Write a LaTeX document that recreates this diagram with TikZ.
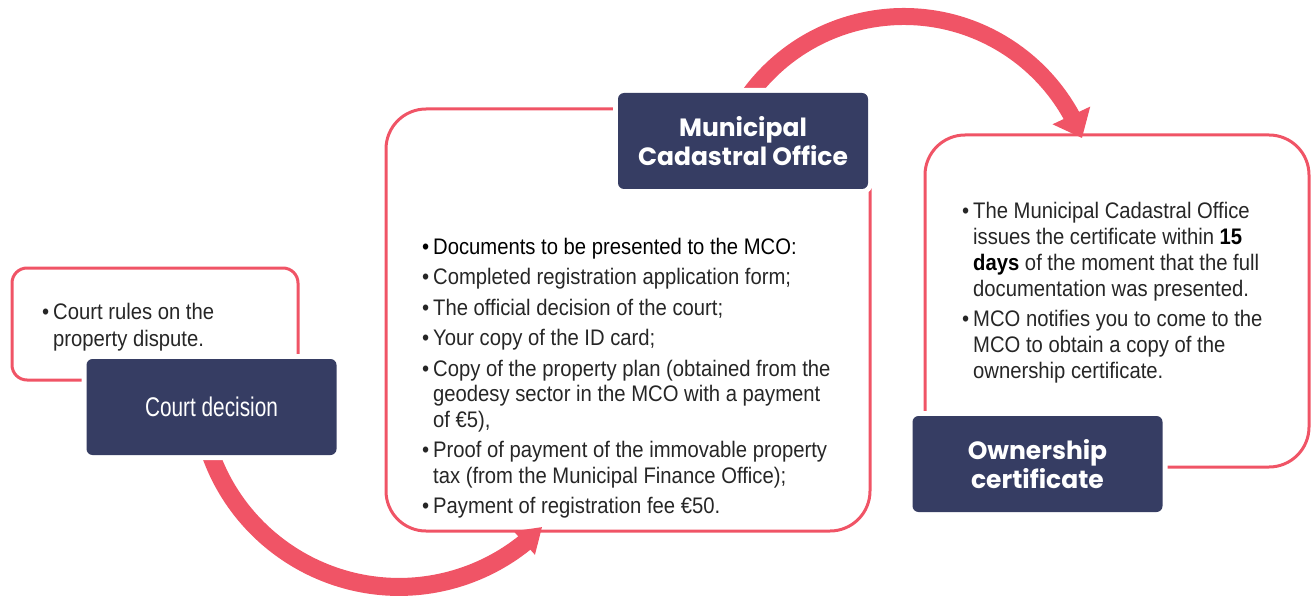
\documentclass[tikz,border=0pt]{standalone}
\usepackage{fontspec}
\usetikzlibrary{arrows.meta,bending}
\newfontfamily\bodyfont[FakeStretch=0.9]{Liberation Sans}
\newfontfamily\courtfont[FakeStretch=0.77]{Liberation Sans}
\newfontfamily\headfont{Poppins}
\definecolor{accent}{RGB}{240,84,102}
\definecolor{navy}{RGB}{54,61,99}
\definecolor{ink}{RGB}{38,38,38}
\newcommand{\bul}{\makebox[11pt][l]{•}}
\newcommand{\ind}{\hspace*{11pt}}
\begin{document}
\begin{tikzpicture}[x=1pt,y=-1pt,
  frame/.style={draw=accent, line width=3pt, rounded corners=#1, inner sep=0pt},
  titlebox/.style={fill=navy, rounded corners=6pt, preaction={draw=white, line width=10pt},
    minimum width=250pt, minimum height=96pt, inner sep=0pt, text=white, align=center},
  headtext/.style={font=\headfont\bfseries\fontsize{25}{29.5}\selectfont},
  bodytext/.style={font=\bodyfont\fontsize{22.5}{#1}\selectfont, text=ink, align=left,
    inner sep=0pt, anchor=base west},
  bigarrow/.style={draw=accent, line width=#1}
]
\useasboundingbox (0,0) rectangle (1312,596);
% outline frames
\node[frame=15pt, minimum width=286pt, minimum height=112pt] (courtframe) at (155,324) {};
\node[frame=40pt, minimum width=484pt, minimum height=422pt] (mcoframe) at (628,320) {};
\node[frame=40pt, minimum width=384pt, minimum height=332pt] (ownframe) at (1117,301) {};
% curved arrows
\coordinate (topc) at (903.8,207.9);
\coordinate (botc) at (399.2,386.5);
\draw[bigarrow=17pt, -{Triangle[width=40pt,length=25pt]}]
  ([shift={(-145:191.4)}]topc) arc[start angle=-145, end angle=-21.4, radius=191.4];
\draw[bigarrow=18pt, -{Triangle[width=30pt,length=24pt]}]
  ([shift={(-195:200.4)}]botc) arc[start angle=-195, end angle=-315.5, radius=200.4];
% title boxes
\node[titlebox, font=\courtfont\fontsize{27}{30}\selectfont] (court) at (211.5,407) {Court decision};
\node[titlebox, headtext] (mco) at (743,141) {Municipal\\Cadastral Office};
\node[titlebox, headtext] (own) at (1037.5,464) {Ownership\\certificate};
% texts (anchored at the baseline of their last line)
\node[bodytext=26.5] (courttext) at (42,346) {\bul Court rules on the\\\ind property dispute.};
\node[bodytext=25.5] (mcotext) at (422,513.5) {%
  \textcolor{black}{\bul Documents to be presented to the MCO:}\\[5pt]
  \bul Completed registration application form;\\[5pt]
  \bul The official decision of the court;\\[5pt]
  \bul Your copy of the ID card;\\[5pt]
  \bul Copy of the property plan (obtained from the\\
  \ind geodesy sector in the MCO with a payment\\
  \ind of €5),\\[5pt]
  \bul Proof of payment of the immovable property\\
  \ind tax (from the Municipal Finance Office);\\[5pt]
  \bul Payment of registration fee €50.};
\node[bodytext=26] (owntext) at (962,378.5) {%
  \bul The Municipal Cadastral Office\\
  \ind issues the certificate within \textcolor{black}{\textbf{15}}\\
  \ind \textcolor{black}{\textbf{days}} of the moment that the full\\
  \ind documentation was presented.\\[4pt]
  \bul MCO notifies you to come to the\\
  \ind MCO to obtain a copy of the\\
  \ind ownership certificate.};
\end{tikzpicture}
\end{document}
